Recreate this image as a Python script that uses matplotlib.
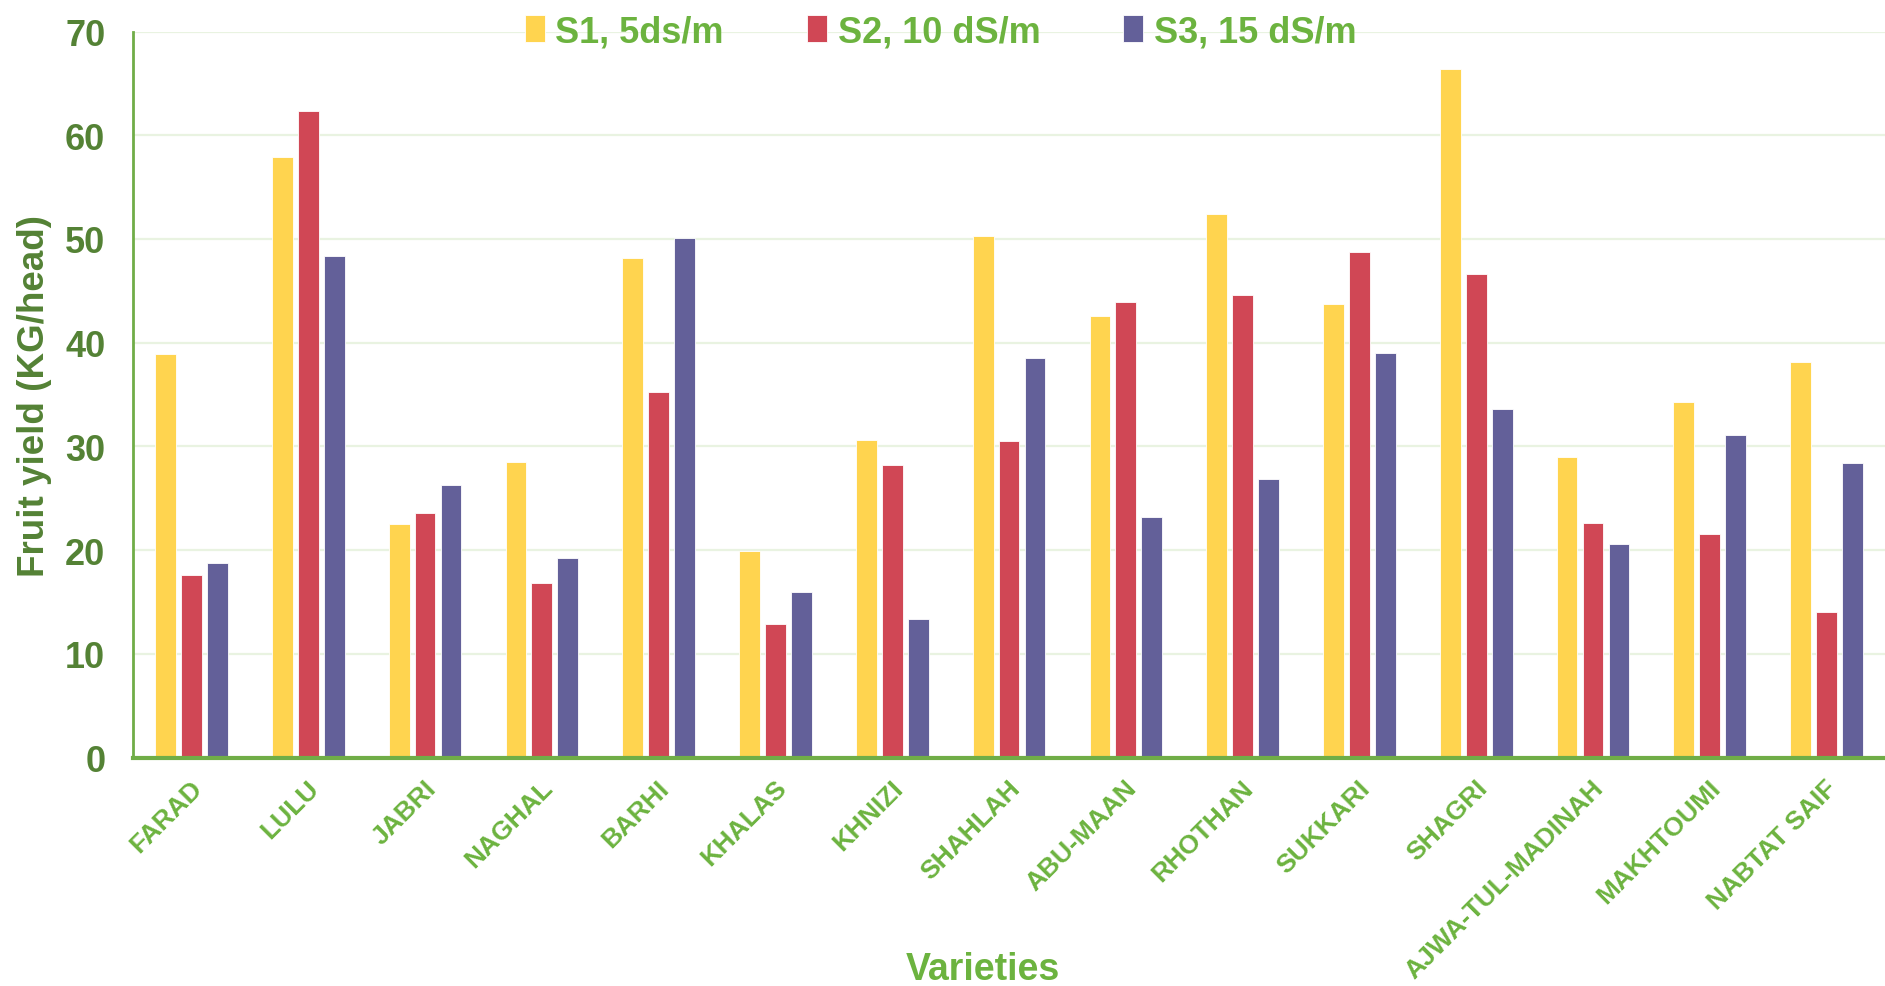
import matplotlib
matplotlib.use("Agg")
import matplotlib.pyplot as plt
import numpy as np

varieties = ["FARAD", "LULU", "JABRI", "NAGHAL", "BARHI", "KHALAS", "KHNIZI",
             "SHAHLAH", "ABU-MAAN", "RHOTHAN", "SUKKARI", "SHAGRI",
             "AJWA-TUL-MADINAH", "MAKHTOUMI", "NABTAT SAIF"]
s1 = [38.9, 57.9, 22.5, 28.5, 48.2, 19.9, 30.6, 50.3, 42.6, 52.4, 43.7, 66.4, 29.0, 34.3, 38.1]
s2 = [17.6, 62.3, 23.6, 16.8, 35.2, 12.9, 28.2, 30.5, 43.9, 44.6, 48.7, 46.6, 22.6, 21.6, 14.0]
s3 = [18.8, 48.4, 26.3, 19.2, 50.1, 16.0, 13.4, 38.5, 23.2, 26.9, 39.0, 33.6, 20.6, 31.1, 28.4]
series_labels = ["S1, 5ds/m", "S2, 10 dS/m", "S3, 15 dS/m"]
y_ticks = [0, 10, 20, 30, 40, 50, 60, 70]

colors = ["#FFD44F", "#D04755", "#636099"]
dark_green = "#548235"
light_green = "#6CB33F"

plt.rcParams["font.family"] = ["Liberation Sans", "DejaVu Sans"]

fig = plt.figure(figsize=(18.85, 9.87), dpi=100)
ax = fig.add_axes([0.0706, 0.2315, 0.9294, 0.7355])

x = np.arange(len(varieties))
step = 0.222
width = 0.178
for i, (vals, c, lab) in enumerate(zip([s1, s2, s3], colors, series_labels)):
    ax.bar(x + (i - 1) * step, vals, width, color=c, label=lab, zorder=3,
           edgecolor="white", linewidth=0.6)

ax.set_xlim(-0.5, len(varieties) - 0.5)
ax.set_ylim(0, 70)
ax.set_yticks(y_ticks)
ax.set_yticklabels([str(t) for t in y_ticks], fontweight="bold", fontsize=26,
                   color=dark_green)
ax.tick_params(axis="y", length=0, pad=20)
ax.tick_params(axis="x", length=0, pad=19)
ax.set_xticks(x + 0.06)
ax.set_xticklabels(varieties, rotation=45, ha="right", va="center",
                   rotation_mode="anchor", fontsize=19, fontweight="bold",
                   color=light_green)

ax.grid(axis="y", color="#E9F3E1", linewidth=1.6, zorder=0)
for side in ["top", "right"]:
    ax.spines[side].set_visible(False)
ax.spines["left"].set_color("#70AD47")
ax.spines["left"].set_linewidth(2)
ax.spines["bottom"].set_color("#70AD47")
ax.spines["bottom"].set_linewidth(3)
ax.spines["bottom"].set_zorder(4)

ax.set_ylabel("Fruit yield (KG/head)", fontsize=26.5, fontweight="bold",
              color=dark_green)
ax.yaxis.set_label_coords(-0.046, 0.5)
ax.set_xlabel("Varieties", fontsize=27, fontweight="bold", color=light_green)
ax.xaxis.set_label_coords(0.485, -0.266)

leg = ax.legend(loc="center", bbox_to_anchor=(0.461, 1.0), ncol=3, frameon=False,
                prop={"weight": "bold", "size": 26},
                handlelength=0.55, handleheight=0.8, handletextpad=0.3,
                columnspacing=2.3, borderaxespad=0)
for t in leg.get_texts():
    t.set_color(light_green)

fig.savefig("out.png", dpi=100, facecolor="white")
